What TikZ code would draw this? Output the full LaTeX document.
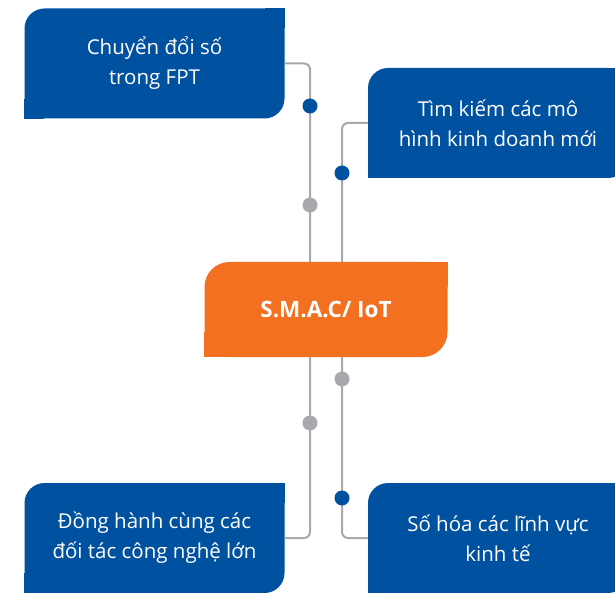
\documentclass[tikz,border=0pt]{standalone}
\usepackage{fontspec}
\setmainfont{Open Sans}
\usepackage{xcolor}
\usepackage{tikz}
\usetikzlibrary{positioning}

\definecolor{FptBlue}{RGB}{0,82,160}
\definecolor{FptOrange}{RGB}{243,112,33}
\definecolor{LinkGray}{RGB}{167,169,172}

% square off the top-right and bottom-left corners of a box
\newcommand\squarecorners[3]{%
  \fill[#2] (#1.north east) rectangle ++(-#3,-#3);
  \fill[#2] (#1.south west) rectangle ++(#3,#3);}

\begin{document}
\begin{tikzpicture}[
x=1pt, y=-1pt,
box/.style={fill=FptBlue, rounded corners=20pt, minimum width=260pt, minimum height=110pt, inner sep=0pt, align=center, text=white, font=\fontsize{20.5}{30}\selectfont},
hub/.style={box, fill=FptOrange, minimum width=243pt, minimum height=95pt, rounded corners=25pt, font=\fontsize{22.5}{30}\selectfont\bfseries},
link/.style={draw=LinkGray, line width=2pt, rounded corners=6pt},
bead/.style={circle, inner sep=0pt, minimum size=15pt, fill=#1},
bead/.default=FptBlue
]
\useasboundingbox (0,0) rectangle (615,593);
\clip (0,0) rectangle (615,593);

\node[hub] (smac) at (326,309.5) {S.M.A.C/ IoT};
\squarecorners{smac}{FptOrange}{25pt}

\node[box] (digital) at (154.5,63.5) {Chuyển đổi số\\trong FPT};
\node[box] (models) at (498,123) {Tìm kiếm các mô\\hình kinh doanh mới};
\node[box] (partners) at (154.5,538) {Đồng hành cùng các\\đối tác công nghệ lớn};
\node[box] (sectors) at (498,538) {Số hóa các lĩnh vực\\kinh tế};
\foreach \n in {digital,models,partners,sectors}{
  \squarecorners{\n}{FptBlue}{20pt}
}

% connectors
\draw[link] (digital.east) -| ([xshift=-16pt]smac.north);
\draw[link] (models.west) -| ([xshift=16pt]smac.north);
\draw[link] (partners.east) -| ([xshift=-16pt]smac.south);
\draw[link] (sectors.west) -| ([xshift=16pt]smac.south);

% beads on the connectors
\node[bead] (b1) at (310,106) {};
\node[bead=LinkGray] (b2) at (310,205) {};
\node[bead] (b3) at (342,173) {};
\node[bead=LinkGray] (b4) at (342,379) {};
\node[bead=LinkGray] (b5) at (310,423) {};
\node[bead] (b6) at (342,498) {};
\end{tikzpicture}
\end{document}
